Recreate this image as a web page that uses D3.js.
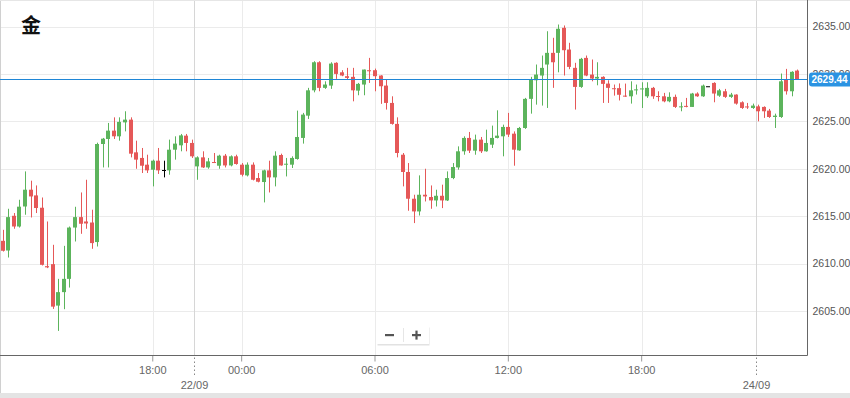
<!DOCTYPE html>
<html>
<head>
<meta charset="utf-8">
<script src="https://cdnjs.cloudflare.com/ajax/libs/d3/7.8.5/d3.min.js"></script>
<style>
  body { margin: 0; background: #fff; overflow: hidden; }
  svg { display: block; font-family: "Liberation Sans", Arial, sans-serif; }
</style>
</head>
<body>
<script>
// 15 minute candles, three trading sessions (start time UTC, number of candles)
const sessions = [
  [Date.UTC(2024, 8, 20, 11, 15), 35],
  [Date.UTC(2024, 8, 22, 22, 0), 101],
  [Date.UTC(2024, 8, 24, 0, 0), 8]
];

const opens = [
  2612.40, 2611.38, 2615.04, 2613.91, 2616.02, 2617.79, 2617.19, 2615.89, 2609.73, 2609.94,
  2605.57, 2606.99, 2608.39, 2613.80, 2614.90, 2614.44, 2614.33, 2612.27, 2622.61, 2623.14,
  2624.02, 2623.42, 2624.89, 2625.18, 2621.73, 2621.14, 2620.43, 2619.90, 2620.85, 2619.87,
  2619.83, 2622.01, 2622.47, 2623.49, 2622.72, 2620.25, 2621.20, 2620.14, 2620.71, 2620.32,
  2621.38, 2620.35, 2621.31, 2620.43, 2619.30, 2620.43, 2619.02, 2618.60, 2619.83, 2619.09,
  2621.45, 2620.43, 2620.43, 2621.03, 2623.25, 2625.60, 2628.27, 2631.23, 2628.53, 2628.77,
  2631.17, 2630.17, 2629.76, 2629.69, 2628.24, 2628.88, 2630.39, 2630.39, 2629.83, 2628.77,
  2626.94, 2624.73, 2621.48, 2619.66, 2616.84, 2615.50, 2617.26, 2617.02, 2616.66, 2617.15,
  2616.66, 2619.02, 2620.14, 2621.84, 2623.25, 2621.91, 2623.07, 2621.84, 2622.54, 2623.25,
  2623.42, 2624.41, 2623.70, 2621.94, 2624.30, 2627.37, 2629.33, 2629.83, 2630.99, 2632.22,
  2632.22, 2634.86, 2632.57, 2630.64, 2628.63, 2631.69, 2629.93, 2629.51, 2629.69, 2628.98,
  2628.49, 2628.50, 2627.71, 2627.64, 2628.32, 2628.42, 2627.64, 2628.53, 2627.67, 2627.64,
  2627.11, 2627.58, 2626.52, 2626.63, 2626.52, 2627.93, 2627.64, 2628.70, 2629.05, 2627.71,
  2628.17, 2627.58, 2627.82, 2627.01, 2626.57, 2626.41, 2626.58, 2626.52, 2626.13, 2625.46,
  2625.46, 2629.40, 2628.17, 2630.35
];
const highs = [
  2613.56, 2615.78, 2615.33, 2616.73, 2619.72, 2618.74, 2618.24, 2616.97, 2614.44, 2611.98,
  2608.39, 2611.87, 2613.91, 2615.99, 2617.50, 2618.84, 2615.68, 2622.75, 2623.25, 2624.83,
  2625.42, 2625.42, 2626.06, 2625.42, 2622.96, 2622.19, 2621.48, 2620.96, 2622.19, 2620.85,
  2623.07, 2623.42, 2623.67, 2623.67, 2623.07, 2621.31, 2621.84, 2621.14, 2621.66, 2621.48,
  2621.56, 2621.41, 2621.48, 2620.60, 2620.67, 2620.67, 2619.55, 2619.90, 2620.85, 2621.84,
  2621.59, 2621.14, 2621.31, 2626.13, 2625.89, 2628.53, 2631.34, 2631.34, 2629.22, 2631.23,
  2631.23, 2630.39, 2630.64, 2630.64, 2629.05, 2630.46, 2631.69, 2630.56, 2629.86, 2629.40,
  2627.64, 2625.42, 2621.66, 2620.60, 2617.26, 2619.30, 2620.00, 2618.24, 2617.79, 2618.32,
  2619.72, 2620.60, 2622.36, 2623.42, 2623.88, 2623.60, 2623.35, 2624.12, 2624.55, 2626.16,
  2624.65, 2625.89, 2623.94, 2624.41, 2627.47, 2629.69, 2630.99, 2631.94, 2634.50, 2633.81,
  2635.21, 2635.11, 2633.28, 2631.17, 2631.69, 2631.94, 2631.52, 2631.23, 2629.75, 2629.33,
  2628.88, 2629.00, 2628.98, 2629.22, 2628.88, 2629.12, 2629.12, 2628.63, 2628.17, 2628.00,
  2628.06, 2627.82, 2627.01, 2627.47, 2628.00, 2628.06, 2628.88, 2628.70, 2629.12, 2628.42,
  2628.42, 2628.00, 2627.85, 2627.11, 2626.94, 2626.87, 2626.76, 2626.58, 2626.31, 2625.81,
  2630.04, 2630.53, 2630.28, 2630.46
];
const lows = [
  2611.27, 2610.64, 2613.67, 2613.80, 2615.15, 2614.86, 2615.33, 2609.80, 2609.52, 2605.22,
  2602.90, 2605.19, 2607.47, 2612.33, 2613.14, 2613.67, 2611.56, 2611.80, 2620.14, 2620.14,
  2623.14, 2622.96, 2623.94, 2621.20, 2620.00, 2619.55, 2619.55, 2618.14, 2619.45, 2619.09,
  2619.37, 2620.96, 2621.84, 2621.84, 2621.14, 2618.84, 2620.08, 2620.00, 2620.60, 2620.00,
  2620.14, 2620.25, 2620.43, 2619.19, 2619.19, 2618.77, 2618.56, 2616.45, 2617.50, 2618.14,
  2620.32, 2619.19, 2620.08, 2620.96, 2622.65, 2625.25, 2628.06, 2628.17, 2628.42, 2628.42,
  2629.48, 2629.76, 2629.40, 2627.11, 2627.75, 2627.75, 2629.05, 2628.17, 2626.84, 2626.24,
  2624.65, 2621.20, 2618.14, 2615.57, 2614.27, 2615.07, 2616.55, 2615.78, 2616.02, 2615.85,
  2616.60, 2618.90, 2619.90, 2621.48, 2621.66, 2621.48, 2621.66, 2621.80, 2622.19, 2623.20,
  2621.31, 2623.35, 2620.32, 2621.90, 2624.20, 2625.81, 2626.76, 2626.66, 2626.41, 2628.53,
  2630.17, 2629.83, 2630.50, 2626.24, 2628.53, 2629.76, 2629.22, 2628.80, 2626.94, 2626.94,
  2627.71, 2627.20, 2627.58, 2626.87, 2627.82, 2626.41, 2627.47, 2627.37, 2627.11, 2627.01,
  2627.01, 2626.41, 2626.06, 2626.48, 2626.52, 2627.58, 2627.58, 2628.70, 2627.01, 2627.58,
  2627.47, 2627.47, 2626.76, 2626.31, 2626.31, 2626.31, 2625.00, 2625.36, 2625.36, 2624.30,
  2625.36, 2627.82, 2627.64, 2629.40
];
const closes = [
  2611.35, 2614.90, 2613.91, 2616.00, 2617.79, 2617.08, 2615.86, 2609.87, 2609.60, 2605.46,
  2606.99, 2608.39, 2613.80, 2614.90, 2614.20, 2614.23, 2612.16, 2622.61, 2623.17, 2624.02,
  2623.42, 2624.94, 2625.18, 2621.59, 2620.96, 2620.32, 2619.83, 2620.85, 2619.83, 2619.87,
  2622.01, 2622.65, 2623.52, 2622.72, 2621.31, 2621.20, 2620.14, 2620.78, 2620.64, 2621.38,
  2620.35, 2621.31, 2620.50, 2619.37, 2620.43, 2618.84, 2618.63, 2619.83, 2619.09, 2621.38,
  2620.35, 2620.53, 2621.14, 2623.35, 2625.71, 2628.27, 2631.23, 2628.53, 2628.88, 2631.09,
  2630.00, 2629.83, 2629.58, 2628.27, 2628.95, 2630.46, 2630.28, 2629.76, 2628.70, 2626.94,
  2624.73, 2621.66, 2619.66, 2616.84, 2615.50, 2617.26, 2617.08, 2616.66, 2617.15, 2616.66,
  2619.02, 2620.18, 2621.84, 2623.25, 2621.91, 2623.07, 2621.84, 2622.72, 2623.25, 2623.49,
  2624.41, 2623.60, 2622.01, 2624.30, 2627.37, 2629.40, 2629.93, 2630.64, 2632.22, 2631.23,
  2634.76, 2632.50, 2630.74, 2628.63, 2631.59, 2629.83, 2629.51, 2629.69, 2628.95, 2628.53,
  2628.42, 2627.80, 2627.66, 2628.27, 2628.37, 2628.47, 2628.53, 2627.64, 2627.62, 2627.11,
  2627.58, 2626.52, 2626.58, 2626.55, 2627.93, 2627.64, 2628.77, 2628.70, 2627.93, 2628.27,
  2627.58, 2627.82, 2626.87, 2626.41, 2626.49, 2626.66, 2626.06, 2626.06, 2625.46, 2625.60,
  2629.22, 2628.17, 2630.22, 2629.44
];

const lastPrice = 2629.44;
const priceTicks = [2605, 2610, 2615, 2620, 2625, 2630, 2635];
const timeTicks = ["20/09 18:00", "23/09 00:00", "23/09 06:00", "23/09 12:00", "23/09 18:00"];
const dateTicks = ["22/09", "24/09"];
const title = "金";

// build candle times from the sessions
const fmt = d3.utcFormat("%d/%m %H:%M");
const times = [];
sessions.forEach(([start, n]) => {
  for (let k = 0; k < n; k++) times.push(fmt(new Date(start + k * 15 * 60000)));
});
const candles = times.map((t, i) => ({ t, i, o: opens[i], h: highs[i], l: lows[i], c: closes[i] }));

const W = 850, H = 398;
const plotR = 807.5, plotB = 355.5;

const svg = d3.select("body").append("svg")
  .attr("width", W)
  .attr("height", H);

const x = d3.scaleBand()
  .domain(d3.range(candles.length))
  .range([0, 800]);
const bw = x.bandwidth();
const cx = i => Math.round(x(i) + bw / 2) + 0.5;

const y = d3.scaleLinear()
  .domain([2605, 2635])
  .range([311, 26.5]);

// frame
svg.append("rect").attr("x", 0).attr("y", 393).attr("width", W).attr("height", 5).attr("fill", "#e4e4e4");
svg.append("line").attr("x1", 0.5).attr("x2", 0.5).attr("y1", 0).attr("y2", 393).attr("stroke", "#d0d0d0");
svg.append("line").attr("x1", 0).attr("x2", W).attr("y1", 0.5).attr("y2", 0.5).attr("stroke", "#e6e6e6");

// grid
const grid = svg.append("g");
grid.selectAll(".hg")
  .data(priceTicks)
  .enter().append("line")
  .attr("x1", 1).attr("x2", plotR)
  .attr("y1", d => Math.round(y(d)) + 0.5)
  .attr("y2", d => Math.round(y(d)) + 0.5)
  .attr("stroke", "#ebebeb");

const timeIdx = timeTicks.map(t => times.indexOf(t));
grid.selectAll(".vg")
  .data(timeIdx)
  .enter().append("line")
  .attr("x1", d => cx(d)).attr("x2", d => cx(d))
  .attr("y1", 1).attr("y2", plotB)
  .attr("stroke", "#ebebeb");

// day separators at first candle of each new session
const dateIdx = dateTicks.map(d => times.findIndex(t => t.startsWith(d)));
const sepX = i => Math.round(x(i)) + 0.5;
grid.selectAll(".sep")
  .data(dateIdx)
  .enter().append("line")
  .attr("x1", d => sepX(d)).attr("x2", d => sepX(d))
  .attr("y1", 1).attr("y2", plotB)
  .attr("stroke", "#d6d6d6");

// title
svg.append("text")
  .attr("x", 21).attr("y", 33)
  .attr("font-family", "'Noto Sans CJK SC', sans-serif")
  .attr("font-weight", "bold")
  .attr("font-size", 20)
  .attr("fill", "#111")
  .text(title);

// candles
const colorOf = d => d.c > d.o ? "#5cb45c" : (d.c < d.o ? "#e55858" : "#000");
const cg = svg.append("g");
cg.selectAll(".wick")
  .data(candles.filter(d => d.h > d.l))
  .enter().append("line")
  .attr("x1", d => cx(d.i)).attr("x2", d => cx(d.i))
  .attr("y1", d => y(d.h)).attr("y2", d => y(d.l))
  .attr("stroke", colorOf)
  .attr("stroke-width", 1);

cg.selectAll(".body")
  .data(candles)
  .enter().append("rect")
  .attr("x", d => cx(d.i) - 2.5)
  .attr("width", 4)
  .attr("y", d => Math.min(y(d.o), y(d.c)))
  .attr("height", d => Math.max(1, Math.abs(y(d.o) - y(d.c))))
  .attr("fill", colorOf);

// last price line
svg.append("line")
  .attr("x1", 0).attr("x2", plotR)
  .attr("y1", Math.round(y(lastPrice)) + 0.5)
  .attr("y2", Math.round(y(lastPrice)) + 0.5)
  .attr("stroke", "#1f86d6")
  .attr("stroke-width", 1);

// y axis on the right
const yAxis = svg.append("g")
  .attr("transform", `translate(${plotR}, 0)`)
  .call(d3.axisRight(y).tickValues(priceTicks).tickFormat(d3.format(".2f")).tickSize(0).tickPadding(5));
yAxis.select(".domain").remove();
yAxis.selectAll("text").attr("font-size", 10.5).attr("fill", "#555").attr("font-family", "'Liberation Sans', Arial, sans-serif");

svg.append("line")
  .attr("x1", plotR).attr("x2", plotR)
  .attr("y1", 0).attr("y2", plotB)
  .attr("stroke", "#666");

// x axis
const xAxis = svg.append("g")
  .attr("transform", `translate(0, ${plotB})`)
  .call(d3.axisBottom(x).tickValues(timeIdx).tickFormat(i => times[i].slice(6)).tickSizeInner(6).tickSizeOuter(0).tickPadding(5));
xAxis.select(".domain").remove();
xAxis.selectAll(".tick line").attr("stroke", "#999");
xAxis.selectAll("text").attr("font-size", 11).attr("fill", "#666").attr("font-family", "'Liberation Sans', Arial, sans-serif");

svg.append("line")
  .attr("x1", 0).attr("x2", plotR)
  .attr("y1", plotB).attr("y2", plotB)
  .attr("stroke", "#666");

// date marks under the axis
const dg = svg.append("g").selectAll("g")
  .data(dateIdx)
  .enter().append("g")
  .attr("transform", d => `translate(${sepX(d)}, ${plotB})`);
dg.append("line")
  .attr("y1", 2).attr("y2", 21)
  .attr("stroke", "#888")
  .attr("stroke-dasharray", "1.5,2.5");
dg.append("text")
  .attr("y", 33)
  .attr("text-anchor", "middle")
  .attr("font-size", 11)
  .attr("fill", "#666")
  .text(d => times[d].slice(0, 5));

// last price label
const lp = svg.append("g").attr("transform", `translate(809, ${Math.round(y(lastPrice)) - 6.5})`);
lp.append("rect")
  .attr("width", 45).attr("height", 14).attr("rx", 3)
  .attr("fill", "#2b93e2");
lp.append("text")
  .attr("x", 2.5).attr("y", 10.8)
  .attr("font-size", 10).attr("font-weight", "bold")
  .attr("fill", "#fff")
  .text(d3.format(".2f")(lastPrice));

// zoom buttons
const zb = svg.append("g").attr("transform", "translate(377, 326)");
zb.append("rect").attr("x", 0.5).attr("y", 1.5).attr("width", 52).attr("height", 18).attr("fill", "#e2e2e2");
zb.append("rect").attr("width", 52).attr("height", 18).attr("fill", "#fff");
zb.append("line").attr("x1", 26.5).attr("x2", 26.5).attr("y1", 2).attr("y2", 16).attr("stroke", "#e6e6e6");
zb.append("rect").attr("x", 8).attr("y", 8).attr("width", 9).attr("height", 2.2).attr("fill", "#555");
zb.append("rect").attr("x", 35).attr("y", 8).attr("width", 9).attr("height", 2.2).attr("fill", "#555");
zb.append("rect").attr("x", 38.4).attr("y", 4.6).attr("width", 2.2).attr("height", 9).attr("fill", "#555");
</script>
</body>
</html>
